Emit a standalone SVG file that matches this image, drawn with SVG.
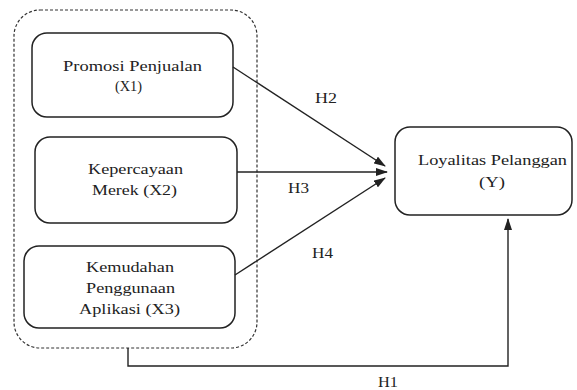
<svg xmlns="http://www.w3.org/2000/svg" width="577" height="390" viewBox="0 0 577 390">
<style>
.box{fill:#fff;stroke:#222;stroke-width:1.5}
.t{font-family:"Liberation Serif",serif;font-size:15px;fill:#222;text-anchor:middle}
.l{font-family:"Liberation Serif",serif;font-size:15px;fill:#222}
.c{fill:none;stroke:#222;stroke-width:1.4}
</style>
<defs>
<marker id="ah" markerWidth="12" markerHeight="8" refX="11" refY="4" orient="auto" markerUnits="userSpaceOnUse">
<path d="M0,0 L12,4 L0,8 z" fill="#222"/>
</marker>
</defs>
<rect width="577" height="390" fill="#fff"/>
<g id="group">
<rect x="14" y="10" width="243" height="338" rx="26" fill="none" stroke="#333" stroke-width="1.2" stroke-dasharray="3,2"/>
</g>
<g id="x1">
<rect class="box" x="32" y="33" width="201" height="84" rx="15"/>
<text class="t" x="132.5" y="71" textLength="139" lengthAdjust="spacingAndGlyphs">Promosi Penjualan</text>
<text class="t" x="128.5" y="91" textLength="27" lengthAdjust="spacingAndGlyphs">(X1)</text>
</g>
<g id="x2">
<rect class="box" x="35" y="137" width="202" height="86" rx="15"/>
<text class="t" x="135.5" y="174" textLength="95" lengthAdjust="spacingAndGlyphs">Kepercayaan</text>
<text class="t" x="134.5" y="195" textLength="85" lengthAdjust="spacingAndGlyphs">Merek (X2)</text>
</g>
<g id="x3">
<rect class="box" x="24" y="246" width="211" height="82" rx="15"/>
<text class="t" x="130" y="272" textLength="88" lengthAdjust="spacingAndGlyphs">Kemudahan</text>
<text class="t" x="130.5" y="293" textLength="89" lengthAdjust="spacingAndGlyphs">Penggunaan</text>
<text class="t" x="129.5" y="314" textLength="101" lengthAdjust="spacingAndGlyphs">Aplikasi (X3)</text>
</g>
<g id="y">
<rect class="box" x="395" y="127" width="177" height="88" rx="15"/>
<text class="t" x="492.5" y="165" textLength="149" lengthAdjust="spacingAndGlyphs">Loyalitas Pelanggan</text>
<text class="t" x="492" y="187" textLength="26" lengthAdjust="spacingAndGlyphs">(Y)</text>
</g>
<g id="connectors">
<line class="c" x1="233" y1="67" x2="385" y2="166" marker-end="url(#ah)"/>
<line class="c" x1="237" y1="172" x2="387" y2="172" marker-end="url(#ah)"/>
<line class="c" x1="235" y1="275" x2="385" y2="178" marker-end="url(#ah)"/>
<polyline class="c" points="128,348 128,366 508,366 508,219" marker-end="url(#ah)"/>
</g>
<g id="labels">
<text class="l" x="315" y="103" textLength="22" lengthAdjust="spacingAndGlyphs">H2</text>
<text class="l" x="288" y="193" textLength="21" lengthAdjust="spacingAndGlyphs">H3</text>
<text class="l" x="312" y="258" textLength="21" lengthAdjust="spacingAndGlyphs">H4</text>
<text class="l" x="378" y="387" textLength="20" lengthAdjust="spacingAndGlyphs">H1</text>
</g>
</svg>
